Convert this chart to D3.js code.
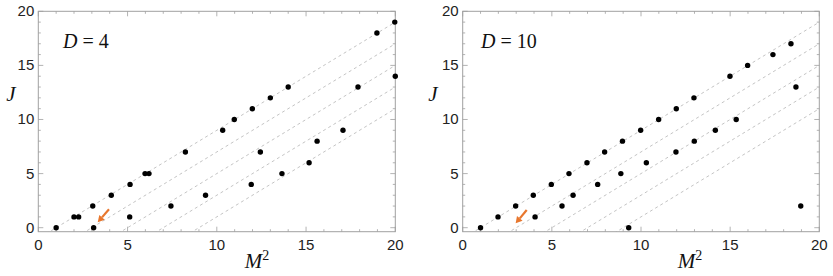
<!DOCTYPE html>
<html>
<head>
<meta charset="utf-8">
<script src="https://cdn.jsdelivr.net/npm/d3@7/dist/d3.min.js"></script>
<style>
  html, body { margin: 0; padding: 0; background: #fff; }
  svg { display: block; }
</style>
</head>
<body>
<svg id="chart" width="833" height="276"></svg>
<script>
// ---- data ----
const xTicks = [0, 5, 10, 15, 20];
const yTicks = [0, 5, 10, 15, 20];
const minorTicks = d3.range(0, 21, 1);
const trajectoryOffsets = [1, 3, 5, 7, 9]; // dashed lines J = M^2 - c

const leftLabel = "4";
const leftM2 = [1, 2, 2.26, 3.05, 3.1, 4.09, 5.14, 5.12, 5.98, 6.2, 7.43, 8.24, 9.37, 10.33, 10.98, 11.93, 11.99, 12.44, 13.0, 13.65, 14.0, 15.17, 15.62, 17.07, 17.91, 18.97, 19.97, 20.0];
const leftJ  = [0, 1, 1,    2,    0,   3,    4,    1,    5,    5,   2,    7,    3,    9,     10,    4,     11,    7,     12,   5,     13,   6,     8,     9,     13,    18,    19,    14];
const leftArrow = [[3.96, 1.7], [3.33, 0.5]];

const rightLabel = "10";
const rightM2 = [1, 1.98, 2.97, 3.96, 4.06, 4.97, 5.57, 5.96, 6.19, 6.97, 7.57, 7.96, 8.87, 8.96, 9.31, 9.98, 10.3, 10.99, 11.96, 11.98, 12.97, 12.99, 14.17, 14.99, 15.34, 15.98, 17.4, 18.41, 18.69, 18.96];
const rightJ  = [0, 1,    2,    3,    1,    4,    2,    5,    3,    6,    4,    7,    5,    8,    0,    9,    6,    10,    7,     11,    12,    8,     9,     14,    10,    15,    16,   17,    13,    2];
const rightArrow = [[3.59, 1.64], [2.97, 0.4]];

const panels = [
  { label: leftLabel,  m2: leftM2,  j: leftJ,  arrow: leftArrow,  x0: 38.3,  x1: 395.3, jx: 11,  mx: 257, dx: 63 },
  { label: rightLabel, m2: rightM2, j: rightJ, arrow: rightArrow, x0: 462.7, x1: 819.3, jx: 433, mx: 690, dx: 481 }
];

const svg = d3.select("#chart");
const plotTop = 11.3, plotBottom = 231.7;
const frameColor = "#a0a0a0";
const orange = "#E8772E";

const defs = svg.append("defs");

panels.forEach((p, i) => {
  const x = d3.scaleLinear().domain([0, 20]).range([p.x0, p.x1]);
  const y = d3.scaleLinear().domain([-0.37, 20]).range([plotBottom, plotTop]);
  const g = svg.append("g");

  defs.append("clipPath").attr("id", "clip" + i)
    .append("rect").attr("x", p.x0).attr("y", plotTop)
    .attr("width", p.x1 - p.x0).attr("height", plotBottom - plotTop);

  // dashed trajectories
  const lg = g.append("g").attr("clip-path", `url(#clip${i})`);
  trajectoryOffsets.forEach(c => {
    lg.append("line")
      .attr("x1", x(-1)).attr("y1", y(-1 - c))
      .attr("x2", x(21)).attr("y2", y(21 - c))
      .attr("stroke", "#bdbdbd").attr("stroke-width", 0.9)
      .attr("stroke-dasharray", "3,3");
  });

  // frame
  g.append("rect").attr("x", p.x0).attr("y", plotTop)
    .attr("width", p.x1 - p.x0).attr("height", plotBottom - plotTop)
    .attr("fill", "none").attr("stroke", frameColor).attr("stroke-width", 1);

  // ticks (inside, all four sides)
  minorTicks.forEach(t => {
    const major = t % 5 === 0;
    const len = major ? 5 : 2.5;
    g.append("line").attr("x1", x(t)).attr("x2", x(t)).attr("y1", plotBottom).attr("y2", plotBottom - len)
      .attr("stroke", frameColor).attr("stroke-width", 0.8);
    g.append("line").attr("x1", x(t)).attr("x2", x(t)).attr("y1", plotTop).attr("y2", plotTop + len)
      .attr("stroke", frameColor).attr("stroke-width", 0.8);
    g.append("line").attr("x1", p.x0).attr("x2", p.x0 + len).attr("y1", y(t)).attr("y2", y(t))
      .attr("stroke", frameColor).attr("stroke-width", 0.8);
    g.append("line").attr("x1", p.x1).attr("x2", p.x1 - len).attr("y1", y(t)).attr("y2", y(t))
      .attr("stroke", frameColor).attr("stroke-width", 0.8);
  });

  // tick labels
  g.selectAll(".xt").data(xTicks).join("text")
    .attr("x", d => x(d)).attr("y", 249.5)
    .attr("text-anchor", "middle")
    .attr("font-family", "'Liberation Sans', Arial, sans-serif")
    .attr("font-size", 15).attr("fill", "#222")
    .text(d => d);
  g.selectAll(".yt").data(yTicks).join("text")
    .attr("x", p.x0 - 4).attr("y", d => y(d) + 5)
    .attr("text-anchor", "end")
    .attr("font-family", "'Liberation Sans', Arial, sans-serif")
    .attr("font-size", 15).attr("fill", "#222")
    .text(d => d);

  // axis labels
  g.append("text").attr("x", p.jx).attr("y", 101)
    .attr("text-anchor", "middle")
    .attr("font-family", "'Liberation Serif', 'Times New Roman', serif")
    .attr("font-style", "italic").attr("font-size", 21).attr("fill", "#111")
    .text("J");
  const mt = g.append("text").attr("x", p.mx).attr("y", 268)
    .attr("text-anchor", "middle")
    .attr("font-family", "'Liberation Serif', 'Times New Roman', serif")
    .attr("font-size", 21).attr("fill", "#111");
  mt.append("tspan").attr("font-style", "italic").text("M");
  mt.append("tspan").attr("font-size", 14).attr("dy", -8).text("2");

  // panel label
  const dl = g.append("text").attr("x", p.dx).attr("y", 48)
    .attr("font-family", "'Liberation Serif', 'Times New Roman', serif")
    .attr("font-size", 20).attr("fill", "#111");
  dl.append("tspan").attr("font-style", "italic").text("D");
  dl.append("tspan").text(" = " + p.label);

  // points
  g.selectAll(".pt").data(p.m2.map((m, k) => [m, p.j[k]])).join("circle")
    .attr("cx", d => x(d[0])).attr("cy", d => y(d[1]))
    .attr("r", 2.7).attr("fill", "#000");

  // orange arrow
  const [a, b] = p.arrow;
  const ax1 = x(a[0]), ay1 = y(a[1]), ax2 = x(b[0]), ay2 = y(b[1]);
  const ang = Math.atan2(ay2 - ay1, ax2 - ax1);
  const hl = 6.5, hw = 3.6;
  const bx = ax2 - hl * Math.cos(ang), by = ay2 - hl * Math.sin(ang);
  g.append("line").attr("x1", ax1).attr("y1", ay1).attr("x2", bx).attr("y2", by)
    .attr("stroke", orange).attr("stroke-width", 2.2);
  const pts = [
    [ax2, ay2],
    [bx + hw * Math.sin(ang), by - hw * Math.cos(ang)],
    [bx - hw * Math.sin(ang), by + hw * Math.cos(ang)]
  ];
  g.append("polygon").attr("points", pts.map(q => q.join(",")).join(" "))
    .attr("fill", orange);
});
</script>
</body>
</html>
